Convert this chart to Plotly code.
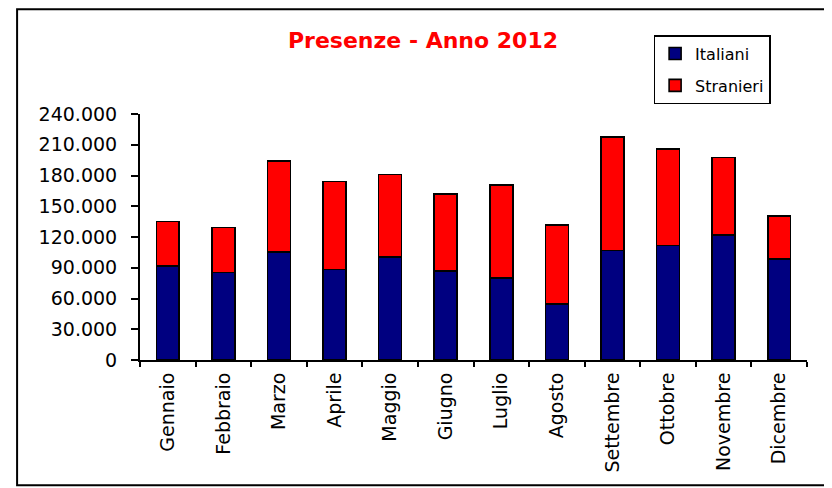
import plotly.graph_objects as go

mesi = ["Gennaio", "Febbraio", "Marzo", "Aprile", "Maggio", "Giugno",
        "Luglio", "Agosto", "Settembre", "Ottobre", "Novembre", "Dicembre"]
italiani = [92000, 85500, 105400, 88400, 100500, 86800,
            80000, 54900, 106900, 111800, 122200, 98500]
totale = [135200, 129100, 194400, 174200, 180800, 162200,
          171000, 132000, 217800, 206100, 197700, 140500]
stranieri = [t - i for t, i in zip(totale, italiani)]
y_ticks = [0, 30000, 60000, 90000, 120000, 150000, 180000, 210000, 240000]

# page body has an 8px margin: figure occupies window (8..832, 8..488)
OFF = 8
W, H = 824, 480
L, R, T, B = 132, 24.5, 106, 127.5
pw, ph = W - L - R, H - T - B

def px_x(x):  # window px -> paper
    return (x - OFF - L) / pw

def px_y(y):
    return (H - B - (y - OFF)) / ph

fig = go.Figure()
fig.add_trace(go.Bar(x=mesi, y=italiani, name="Italiani", legendgroup="a",
                     marker=dict(color="#000080", line=dict(color="black", width=1.6))))
fig.add_trace(go.Bar(x=mesi, y=stranieri, name="Stranieri", legendgroup="b",
                     marker=dict(color="#FF0000", line=dict(color="black", width=1.6))))

fig.update_layout(
    width=W, height=H,
    margin=dict(l=L, r=R, t=T, b=B, pad=0),
    barmode="stack", bargap=0.587,
    plot_bgcolor="white", paper_bgcolor="white",
    separators=",.",
    font=dict(family="DejaVu Sans", color="black", size=19),
    title=dict(text="<b>Presenze - Anno 2012</b>", x=(423 - OFF) / W, xanchor="center",
               y=1 - (40 - OFF) / H, yanchor="middle",
               font=dict(family="DejaVu Sans", size=22, color="#FF0000")),
    legend=dict(x=px_x(654), y=px_y(35), xanchor="left", yanchor="top",
                bordercolor="black", borderwidth=1.5, bgcolor="white",
                traceorder="grouped", tracegroupgap=8,
                font=dict(family="DejaVu Sans", size=16)),
    showlegend=True,
)
fig.update_yaxes(range=[0, 240000], tickvals=y_ticks, tickformat=",d",
                 showgrid=False, zeroline=False, showline=True, linecolor="black",
                 linewidth=2, ticks="outside", ticklen=7, tickwidth=1.5, tickcolor="black",
                 ticklabelstandoff=10)
fig.update_xaxes(showgrid=False, showline=True, linecolor="black", linewidth=2,
                 ticks="outside", tickson="boundaries", ticklen=5, tickwidth=1.5,
                 tickcolor="black", tickangle=-90, ticklabelstandoff=3)

fig.add_shape(type="rect", xref="paper", yref="paper",
              x0=px_x(17), x1=px_x(829), y0=px_y(486), y1=px_y(9),
              line=dict(color="black", width=2), fillcolor="rgba(0,0,0,0)", layer="below")

fig.write_html("out.html")
